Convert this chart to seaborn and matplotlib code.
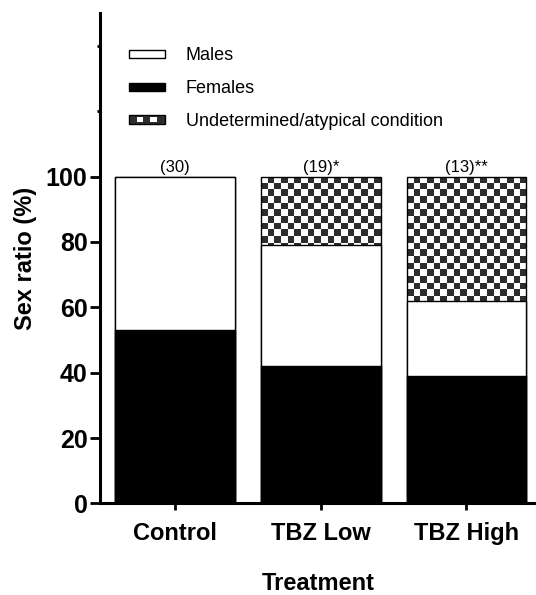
import numpy as np
import pandas as pd
import matplotlib
matplotlib.use("Agg")
import matplotlib.pyplot as plt
import seaborn as sns
from matplotlib.colors import ListedColormap
from matplotlib.patches import Patch, Rectangle
from matplotlib.legend_handler import HandlerBase

# ── Dados ─────────────────────────────────────────────────────────────────────
TREATMENTS   = ["Control", "TBZ Low", "TBZ High"]
FEMALES      = [53, 42, 39]
MALES        = [47, 37, 23]
UNDETERMINED = [0, 21, 38]
N_LABELS     = ["(30)", "(19)*", "(13)**"]
LEGEND_LABELS = ["Males", "Females", "Undetermined/atypical condition"]

DARK = "#2d2d2d"

df = pd.DataFrame({"treatment": TREATMENTS, "females": FEMALES,
                   "males": MALES, "undetermined": UNDETERMINED})
df["fm"] = df["females"] + df["males"]
df["total"] = df["fm"] + df["undetermined"]

sns.set_theme(style="ticks", rc={
    "axes.edgecolor": "black", "text.color": "black", "axes.labelcolor": "black",
    "xtick.color": "black", "ytick.color": "black",
})
plt.rcParams["font.family"] = ["Liberation Sans", "DejaVu Sans"]


class CheckerHandler(HandlerBase):
    # pequeno retângulo escuro com dois quadrados brancos (legenda do xadrez)
    def create_artists(self, legend, orig_handle, xdescent, ydescent,
                       width, height, fontsize, trans):
        x0, y0 = -xdescent, -ydescent
        arts = [Rectangle((x0, y0), width, height, facecolor=DARK,
                          edgecolor="black", lw=1, transform=trans)]
        for f in (0.22, 0.59):
            arts.append(Rectangle((x0 + f * width, y0 + 0.18 * height), 0.18 * width,
                                  0.64 * height, facecolor="white", edgecolor="none",
                                  transform=trans))
        return arts


fig = plt.figure(figsize=(5.36, 5.95), dpi=100)
ax = fig.add_axes([0.1866, 0.1538, 0.8134, 0.978 - 0.1538])

common = dict(x="treatment", width=0.823, edgecolor="black", linewidth=1.0,
              saturation=1, errorbar=None, ax=ax)
sns.barplot(data=df, y="total", color="white", zorder=2, **common)
top_bars = ax.containers[-1]
sns.barplot(data=df, y="fm", color="white", zorder=3, **common)
sns.barplot(data=df, y="females", color="black", zorder=4, **common)

XLIM, YLIM = (-0.515, 2.477), (0, 150)
ax.set_xlim(*XLIM)
ax.set_ylim(*YLIM)

# xadrez recortado nas barras "indeterminado"
CELL_PX = 6.7
checker_cmap = ListedColormap(["white", DARK])
for bar, und in zip(top_bars, df["undetermined"]):
    if und <= 0:
        continue
    x0, y0, w, h = bar.get_x(), bar.get_y(), bar.get_width(), bar.get_height()
    (px0, py0), (px1, py1) = ax.transData.transform([(x0, y0), (x0 + w, y0 + h)])
    ncol = max(1, round((px1 - px0) / CELL_PX))
    nrow = max(1, round((py1 - py0) / ((px1 - px0) / ncol)))
    grid = np.add.outer(np.arange(nrow), np.arange(ncol)) % 2
    bar.set_facecolor("none")
    img = ax.imshow(grid, cmap=checker_cmap, extent=(x0, x0 + w, y0, y0 + h),
                    origin="upper", interpolation="nearest", aspect="auto", zorder=1.9)
    img.set_clip_path(bar)

ax.set_xlim(*XLIM)
ax.set_ylim(*YLIM)

for bar, lab in zip(top_bars, N_LABELS):
    ax.annotate(lab, (bar.get_x() + bar.get_width() / 2, bar.get_height()),
                xytext=(0, 1), textcoords="offset points",
                ha="center", va="bottom", fontsize=12)

# eixos
sns.despine(ax=ax)
ax.spines["left"].set_linewidth(2.2)
ax.spines["bottom"].set_linewidth(2.2)
ax.set_yticks([0, 20, 40, 60, 80, 100])
ax.set_yticks([120, 140], minor=True)
ax.tick_params(axis="y", which="major", length=7, width=2, pad=2, labelsize=18)
ax.tick_params(axis="y", which="minor", length=2, width=2)
ax.tick_params(axis="x", length=5, width=2, pad=8.5, labelsize=17)
for lbl in ax.get_xticklabels() + ax.get_yticklabels():
    lbl.set_fontweight("bold")
ax.set_xlabel("Treatment", fontsize=17, fontweight="bold", labelpad=19.5)
ax.set_ylabel("Sex ratio (%)", fontsize=17, fontweight="bold", labelpad=6)

# legenda
handles = [Patch(facecolor="white", edgecolor="black", lw=1),
           Patch(facecolor="black", edgecolor="black", lw=1),
           Patch(facecolor=DARK, edgecolor="black", lw=1)]
ax.legend(handles, LEGEND_LABELS, handler_map={handles[2]: CheckerHandler()},
          loc="upper left", bbox_to_anchor=(0.0665, 0.93), frameon=False,
          borderpad=0, borderaxespad=0, fontsize=13, handlelength=2.0,
          handleheight=0.35, handletextpad=1.15, labelspacing=0.88)

fig.savefig("out.png", dpi=100)
